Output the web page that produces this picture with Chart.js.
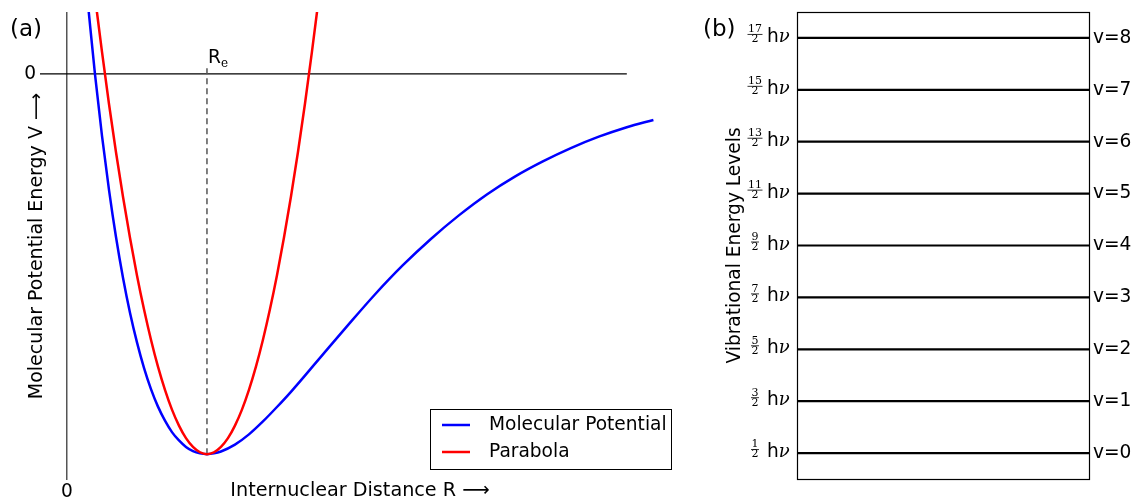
<!DOCTYPE html>
<html lang="en">
<head>
<meta charset="UTF-8" />
<script src="https://cdn.jsdelivr.net/npm/chart.js"></script>
<title>Molecular potential and vibrational levels</title>
<style>
  body { margin: 0; background: #fff; }
  #wrap { position: relative; width: 1133px; height: 501px; }
  #potChart { position: absolute; left: 0; top: 0; }
  #levelChart { position: absolute; left: 690px; top: 0; }
</style>
</head>
<body>
<div id="wrap">
  <canvas id="potChart" width="690" height="501"></canvas>
  <canvas id="levelChart" width="443" height="501"></canvas>
</div>
<script>
// (a) R in units of R_e, V in units of the well depth
const morseR = [0.15, 0.2, 0.25, 0.3, 0.35, 0.4, 0.45, 0.5, 0.55, 0.6, 0.65, 0.7, 0.75, 0.8, 0.85, 0.9, 0.95, 1.0,
  1.05, 1.1, 1.2, 1.3, 1.4, 1.5, 1.6, 1.8, 2.0, 2.2, 2.4, 2.6, 2.8, 3.0, 3.2, 3.4, 3.6, 3.8, 4.0, 4.19];
const morseV = [0.183, -0.001, -0.163, -0.305, -0.429, -0.536, -0.628, -0.706, -0.773, -0.829, -0.875, -0.912, -0.942, -0.964, -0.981, -0.992, -0.998, -1.0,
  -0.998, -0.993, -0.975, -0.948, -0.914, -0.876, -0.836, -0.750, -0.664, -0.580, -0.503, -0.434, -0.372, -0.317, -0.270, -0.230, -0.195, -0.165, -0.140, -0.121];

const paraR = [0.2, 0.25, 0.3, 0.35, 0.4, 0.45, 0.5, 0.55, 0.6, 0.65, 0.7, 0.75, 0.8, 0.85, 0.9, 0.95, 1.0,
  1.05, 1.1, 1.15, 1.2, 1.25, 1.3, 1.35, 1.4, 1.45, 1.5, 1.55, 1.6, 1.65, 1.7, 1.75, 1.8];
const paraV = [0.203, 0.058, -0.079, -0.206, -0.323, -0.431, -0.530, -0.619, -0.699, -0.770, -0.831, -0.883, -0.925, -0.958, -0.981, -0.995, -1.0,
  -0.995, -0.981, -0.958, -0.925, -0.883, -0.831, -0.770, -0.699, -0.619, -0.530, -0.431, -0.323, -0.206, -0.079, 0.058, 0.203];

const zeroR = [-0.193, 4.0];
const zeroV = [0, 0];
const reR = [1, 1];
const reV = [-1, 0.016];
const xTicksA = [0];
const yTicksA = [0];

// (b) vibrational levels
const levelE = [0.5, 1.5, 2.5, 3.5, 4.5, 5.5, 6.5, 7.5, 8.5];
const levelNumer = ['1', '3', '5', '7', '9', '11', '13', '15', '17'];
const levelNames = ['v=0', 'v=1', 'v=2', 'v=3', 'v=4', 'v=5', 'v=6', 'v=7', 'v=8'];

Chart.defaults.font.family = "'DejaVu Sans', sans-serif";
Chart.defaults.color = '#000';

const toPts = (xs, ys) => xs.map((x, i) => ({ x: x, y: ys[i] }));

// keep the chart area where it is, whatever size the labels are
const noPad = s => { s.paddingTop = 0; s.paddingBottom = 0; s.paddingLeft = 0; s.paddingRight = 0; };

// text, R_e mark and legend box for panel (a)
const decorA = {
  id: 'decorA',
  afterDraw(chart) {
    const ctx = chart.ctx;
    const xs = chart.scales.x;
    ctx.save();
    ctx.fillStyle = '#000';
    ctx.textBaseline = 'middle';
    ctx.font = "23px 'DejaVu Sans'";
    ctx.fillText('(a)', 10, 30);

    // R_e above the dashed line
    const rx = xs.getPixelForValue(reR[0]);
    ctx.textBaseline = 'alphabetic';
    ctx.font = "18.6px 'DejaVu Sans'";
    ctx.fillText('R', rx + 1, 63);
    ctx.font = "12px 'DejaVu Serif'";
    ctx.fillText('e', rx + 14, 67);

    // legend
    ctx.strokeStyle = '#000';
    ctx.lineWidth = 1;
    ctx.strokeRect(430.5, 409.5, 241, 60);
    const entries = [chart.data.datasets[1], chart.data.datasets[0]];
    entries.forEach((ds, i) => {
      const y = 425 + i * 27;
      ctx.strokeStyle = ds.borderColor;
      ctx.lineWidth = 2.5;
      ctx.beginPath();
      ctx.moveTo(442, y);
      ctx.lineTo(470, y);
      ctx.stroke();
      ctx.font = "18.6px 'DejaVu Sans'";
      ctx.textBaseline = 'middle';
      ctx.fillText(ds.label, 489, y);
    });
    ctx.restore();
  }
};

new Chart(document.getElementById('potChart'), {
  type: 'line',
  data: {
    datasets: [
      { label: 'Parabola', data: toPts(paraR, paraV), borderColor: '#ff0000', borderWidth: 2.5,
        pointRadius: 0, cubicInterpolationMode: 'monotone', order: 0 },
      { label: 'Molecular Potential', data: toPts(morseR, morseV), borderColor: '#0000ff', borderWidth: 2.5,
        pointRadius: 0, cubicInterpolationMode: 'monotone', order: 1 },
      { label: 're', data: toPts(reR, reV), borderColor: '#555', borderWidth: 1.5, borderDash: [6, 4],
        pointRadius: 0, order: 2 },
      { label: 'zero', data: toPts(zeroR, zeroV), borderColor: '#000', borderWidth: 1.2,
        pointRadius: 0, order: 3 }
    ]
  },
  options: {
    responsive: false,
    animation: false,
    layout: { padding: { top: 12, right: 10, left: 0, bottom: 0 } },
    plugins: { legend: { display: false }, tooltip: { enabled: false } },
    scales: {
      x: {
        type: 'linear', min: -0.193, max: 4.38,
        afterBuildTicks: s => { s.ticks = xTicksA.map(v => ({ value: v })); },
        afterFit: s => { s.height = 21; noPad(s); },
        grid: { color: '#555', lineWidth: 1.5, drawTicks: false },
        border: { display: false },
        ticks: { padding: 1, font: { size: 18.6 }, callback: v => String(v) },
        title: { display: true, text: 'Internuclear Distance R ⟶', font: { size: 19.2, lineHeight: 1 }, padding: 0 }
      },
      y: {
        type: 'linear', min: -1.068, max: 0.163,
        afterBuildTicks: s => { s.ticks = yTicksA.map(v => ({ value: v })); },
        afterFit: s => { s.width = 40; noPad(s); },
        grid: { display: false, drawTicks: false },
        border: { display: false },
        ticks: { padding: 4, font: { size: 18.6 }, callback: v => String(v) },
        title: { display: true, text: 'Molecular Potential Energy V ⟶', font: { size: 19, lineHeight: 1 },
          padding: { top: 27.5, bottom: 0 } }
      }
    }
  },
  plugins: [decorA]
});

// frame, (b) and the fraction labels for panel (b)
const decorB = {
  id: 'decorB',
  afterDraw(chart) {
    const ctx = chart.ctx;
    const a = chart.chartArea;
    const ys = chart.scales.y;
    ctx.save();
    ctx.strokeStyle = '#000';
    ctx.lineWidth = 1.2;
    ctx.strokeRect(a.left + 0.5, a.top + 0.5, a.right - a.left, a.bottom - a.top);

    ctx.fillStyle = '#000';
    ctx.textBaseline = 'middle';
    ctx.font = "23px 'DejaVu Sans'";
    ctx.fillText('(b)', 13, 30);

    levelE.forEach((e, i) => {
      const y = ys.getPixelForValue(e);
      const cx = 65;
      ctx.font = "11px 'DejaVu Serif'";
      ctx.textAlign = 'center';
      ctx.textBaseline = 'middle';
      const nw = ctx.measureText(levelNumer[i]).width;
      ctx.fillText(levelNumer[i], cx, y - 8.5);
      ctx.fillText('2', cx, y + 1.5);
      ctx.lineWidth = 0.8;
      ctx.beginPath();
      ctx.moveTo(cx - nw / 2 - 0.5, y - 3.5);
      ctx.lineTo(cx + nw / 2 + 0.5, y - 3.5);
      ctx.stroke();

      ctx.textAlign = 'left';
      ctx.textBaseline = 'alphabetic';
      const hx = 77;
      ctx.font = "18.6px 'DejaVu Sans'";
      ctx.fillText('h', hx, y + 4);
      const hw = ctx.measureText('h').width;
      ctx.font = "italic 18px 'DejaVu Serif'";
      ctx.fillText('ν', hx + hw, y + 4);
    });
    ctx.restore();
  }
};

const levelPts = [];
levelE.forEach(e => {
  levelPts.push({ x: 0, y: e }, { x: 1, y: e }, { x: 1, y: null });
});

new Chart(document.getElementById('levelChart'), {
  type: 'line',
  data: {
    datasets: [
      { label: 'levels', data: levelPts, borderColor: '#000', borderWidth: 2.2, pointRadius: 0, spanGaps: false }
    ]
  },
  options: {
    responsive: false,
    animation: false,
    layout: { padding: { top: 12, bottom: 22, left: 0, right: 0 } },
    plugins: { legend: { display: false }, tooltip: { enabled: false } },
    scales: {
      x: { type: 'linear', min: 0, max: 1, display: false },
      y: {
        type: 'linear', position: 'left', min: 0, max: 9,
        afterFit: s => { s.width = 107; noPad(s); },
        grid: { display: false, drawTicks: false },
        border: { display: false },
        ticks: { display: false },
        title: { display: true, text: 'Vibrational Energy Levels', font: { size: 18.6, lineHeight: 1 },
          padding: { top: 36, bottom: 0 } }
      },
      yR: {
        type: 'linear', position: 'right', min: 0, max: 9,
        afterBuildTicks: s => { s.ticks = levelE.map(v => ({ value: v })); },
        afterFit: s => { s.width = 44; noPad(s); },
        grid: { display: false, drawTicks: false },
        border: { display: false },
        ticks: { padding: 4, font: { size: 18.6 }, autoSkip: false, callback: (v, i) => levelNames[i] }
      }
    }
  },
  plugins: [decorB]
});
</script>
</body>
</html>
